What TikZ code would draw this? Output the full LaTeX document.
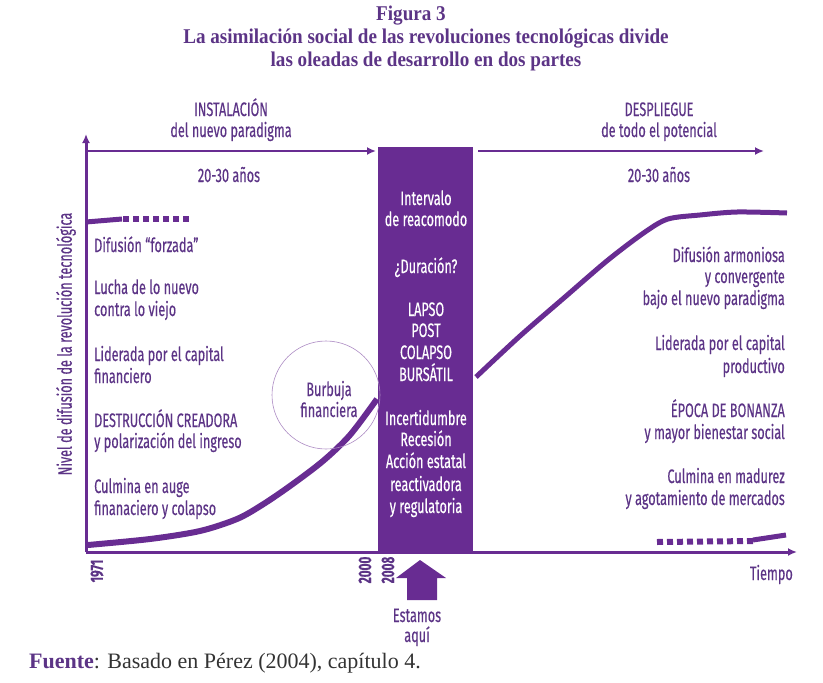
\documentclass[tikz,border=0pt]{standalone}
\usepackage{fontspec}
\setmainfont{Liberation Serif}
\newfontfamily\cnd[FakeStretch=0.65,FakeBold=0.4]{Fira Sans}
\newfontfamily\ttl[FakeStretch=0.91]{Liberation Serif}
\usetikzlibrary{arrows.meta}
\definecolor{pur}{RGB}{104,44,146}
\definecolor{tpur}{RGB}{92,52,134}
\tikzset{
  lbl/.style={font=\cnd\fontsize{19.5}{22}\selectfont, text=tpur, inner sep=0, anchor=base west},
  rlbl/.style={lbl, anchor=base east},
  blbl/.style={lbl, anchor=base, text=white},
  ttlstyle/.style={font=\ttl\bfseries\fontsize{21}{24}\selectfont, text=tpur, inner sep=0, anchor=base},
  axis/.style={draw=pur, line width=3pt},
  toparrow/.style={draw=pur, line width=2pt, -{Latex[length=9pt,width=8pt]}},
  curve/.style={draw=pur, line width=6pt},
  sq/.style={draw=pur, line width=6pt, dash pattern=on 6pt off 4pt},
  yr/.style={font=\cnd\bfseries\fontsize{18}{20}\selectfont, text=tpur, inner sep=0, rotate=90}
}
\begin{document}
\begin{tikzpicture}[x=1pt,y=-1pt]
\useasboundingbox (0,0) rectangle (823,683);
% title
\node[ttlstyle] (t1) at (411,20) {Figura 3};
\node[ttlstyle] (t2) at (426,43) {La asimilación social de las revoluciones tecnológicas divide};
\node[ttlstyle] (t3) at (426,66) {las oleadas de desarrollo en dos partes};
% headings
\node[lbl, anchor=base] (inst) at (231,116) {INSTALACIÓN};
\node[lbl, anchor=base] (inst2) at (231,137) {del nuevo paradigma};
\node[lbl, anchor=base] (desp) at (659,116) {DESPLIEGUE};
\node[lbl, anchor=base] (desp2) at (659,137) {de todo el potencial};
\node[lbl, anchor=base] (a1) at (229,182) {20-30 años};
\node[lbl, anchor=base] (a2) at (659,182) {20-30 años};
% box
\node[fill=pur, minimum width=95pt, minimum height=406pt, inner sep=0] (box) at (425.5,350) {};
% axes
\coordinate (O) at (86,552);
\coordinate (Ytop) at (86,134);
\coordinate (Xend) at (797,552);
\draw[axis, -{Latex[length=9pt,width=8pt]}] (O) -- (Ytop);
\draw[axis, -{Latex[length=9pt,width=8pt]}] (O) -- (Xend);
\coordinate (L1) at (88,151);
\coordinate (L2) at (376,151);
\coordinate (R1) at (478,151);
\coordinate (R2) at (764,151);
\draw[toparrow] (L1) -- (L2);
\draw[toparrow] (R1) -- (R2);
% curves
\draw[curve] plot[smooth] coordinates {(88,545) (150,539) (200,531) (237,519) (262,505) (290,486) (323,461) (350,435) (377,399)};
\draw[curve, line width=5pt] plot[smooth, tension=0.5] coordinates {(476,377) (520,336) (565,297) (608,260) (645,232) (668,219) (700,215) (737,212) (787,213)};
\draw[curve, line width=5pt] (86,222) -- (122,219);
\draw[sq] (123,219) -- (192,219);
\draw[sq] (657,542) -- (755,541);
\draw[curve, line width=5pt] (753,540) -- (786,535);
% bubble
\node[draw=pur!55, line width=0.6pt, circle, minimum size=108pt, inner sep=0] (bub) at (326,395) {};
\node[lbl, anchor=base] (bub1) at (329,396) {Burbuja};
\node[lbl, anchor=base] (bub2) at (329,417) {financiera};
% y label
\node[lbl, rotate=90, anchor=center] (ylab) at (66,344) {Nivel de difusión de la revolución tecnológica};
% left texts
\node[lbl] (l1) at (94,252) {Difusión “forzada”};
\node[lbl] (l2) at (94,294) {Lucha de lo nuevo};
\node[lbl] (l3) at (94,316) {contra lo viejo};
\node[lbl] (l4) at (94,361) {Liderada por el capital};
\node[lbl] (l5) at (94,383) {financiero};
\node[lbl] (l6) at (94,427) {DESTRUCCIÓN CREADORA};
\node[lbl] (l7) at (94,448) {y polarización del ingreso};
\node[lbl] (l8) at (94,493) {Culmina en auge};
\node[lbl] (l9) at (94,515) {finanaciero y colapso};
% right texts
\node[rlbl] (r1) at (785,262) {Difusión armoniosa};
\node[rlbl] (r2) at (785,283) {y convergente};
\node[rlbl] (r3) at (785,305) {bajo el nuevo paradigma};
\node[rlbl] (r4) at (785,350) {Liderada por el capital};
\node[rlbl] (r5) at (785,373) {productivo};
\node[rlbl] (r6) at (785,417) {ÉPOCA DE BONANZA};
\node[rlbl] (r7) at (785,439) {y mayor bienestar social};
\node[rlbl] (r8) at (785,483) {Culmina en madurez};
\node[rlbl] (r9) at (785,505) {y agotamiento de mercados};
\node[rlbl] (tiempo) at (793,580) {Tiempo};
% box texts
\node[blbl] (b1) at (426,205) {Intervalo};
\node[blbl] (b2) at (426,226) {de reacomodo};
\node[blbl] (b3) at (426,273) {¿Duración?};
\node[blbl] (b4) at (426,316) {LAPSO};
\node[blbl] (b5) at (426,337) {POST};
\node[blbl] (b6) at (426,359) {COLAPSO};
\node[blbl] (b7) at (426,381) {BURSÁTIL};
\node[blbl] (b8) at (426,425) {Incertidumbre};
\node[blbl] (b9) at (426,446) {Recesión};
\node[blbl] (b10) at (426,468) {Acción estatal};
\node[blbl] (b11) at (426,491) {reactivadora};
\node[blbl] (b12) at (426,513) {y regulatoria};
% years
\node[yr] (y1) at (97,571) {1971};
\node[yr] (y2) at (365,570) {2000};
\node[yr] (y3) at (388,570) {2008};
% estamos aqui arrow
\fill[pur] (420,560) -- (446,578) -- (437,578) -- (437,600) -- (407,600) -- (407,578) -- (396,578) -- cycle;
\node[lbl, anchor=base] (e1) at (417,622) {Estamos};
\node[lbl, anchor=base] (e2) at (417,642) {aquí};
% source
\node[inner sep=0, anchor=base west, font=\fontsize{22}{24}\selectfont, text=black!80] (src) at (29,668) {\textcolor{tpur}{\textbf{Fuente}}: Basado en Pérez (2004), capítulo 4.};
\end{tikzpicture}
\end{document}
